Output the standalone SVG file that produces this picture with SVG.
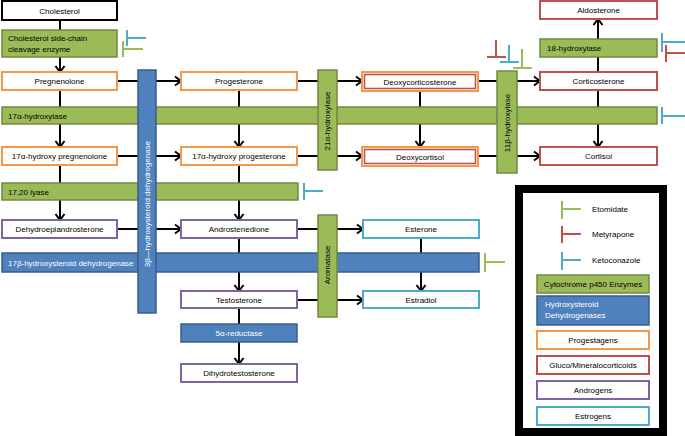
<svg xmlns="http://www.w3.org/2000/svg" width="685" height="436" viewBox="0 0 685 436">
<defs>
<marker id="arr" markerUnits="userSpaceOnUse" markerWidth="12" markerHeight="12" refX="7" refY="5" orient="auto" overflow="visible">
<path d="M1,0.5 L7,5 L1,9.5" fill="none" stroke="#000" stroke-width="2"/>
</marker>
<style>
text{font-family:"Liberation Sans",Arial,sans-serif;font-size:8px;fill:#000}
.c{text-anchor:middle}
.w{fill:#fff}
.node{fill:#fff;stroke-width:2}
.k{stroke:#000}
.o{stroke:#F79646}
.r{stroke:#C0504D}
.p{stroke:#8064A2}
.cy{stroke:#4BACC6}
.g{fill:#9BBB59;stroke:#71893F;stroke-width:1.5}
.b{fill:#4F81BD;stroke:#385D8A;stroke-width:1.5}
.ln{stroke:#000;stroke-width:2;fill:none}
.a{marker-end:url(#arr)}
.ti{fill:none;stroke-width:2}
.tg{stroke:#9BBB59}
.tr{stroke:#C0504D}
.tb{stroke:#4BACC6}
</style>
</defs>
<rect width="685" height="436" fill="#fff"/>

<g id="connectors">
<path class="ln a" d="M60,20 V72"/>
<path class="ln a" d="M60,90 V147"/>
<path class="ln a" d="M60,165 V220"/>
<path class="ln a" d="M117,81 H181"/>
<path class="ln a" d="M117,156 H181"/>
<path class="ln a" d="M117,229 H181"/>
<path class="ln a" d="M239,90 V147"/>
<path class="ln a" d="M239,165 V220"/>
<path class="ln a" d="M239,238 V291"/>
<path class="ln a" d="M239,308 V364"/>
<path class="ln a" d="M297,81 H362"/>
<path class="ln a" d="M297,156 H362"/>
<path class="ln a" d="M297,229 H363"/>
<path class="ln a" d="M297,300 H363"/>
<path class="ln a" d="M420,91 V147"/>
<path class="ln a" d="M421,238 V291"/>
<path class="ln a" d="M478,81 H540"/>
<path class="ln a" d="M478,156 H540"/>
<path class="ln a" d="M598,72 V19"/>
<path class="ln a" d="M598,90 V147"/>
</g>

<g id="hbars">
<g id="e17ahydroxylase"><rect class="g" x="2" y="107" width="655" height="17"/><text x="8" y="118.5">17α-hydroxylase</text></g>
<g id="e1720lyase"><rect class="g" x="2" y="183" width="296" height="17"/><text x="8" y="194.5">17,20 lyase</text></g>
<g id="e17bhsd"><rect class="b" x="2" y="253" width="477" height="19"/><text class="w" x="8" y="265.5">17β-hydroxysteroid dehydrogenase</text></g>
</g>

<g id="vbars">
<g id="e3bhsd"><rect class="b" x="138" y="70" width="18" height="243"/><text class="c w" transform="translate(150,204) rotate(-90)">3β—hydroxysteroid dehydrogenase</text></g>
<g id="e21a"><rect class="g" x="318" y="70" width="19" height="100"/><text class="c" transform="translate(330,121) rotate(-90)">21α-hydroxylase</text></g>
<g id="e11b"><rect class="g" x="497" y="71" width="20" height="102"/><text class="c" transform="translate(510,123) rotate(-90)">11β-hydroxylase</text></g>
<g id="earomatase"><rect class="g" x="318" y="215" width="19" height="102"/><text class="c" transform="translate(330,265) rotate(-90)">Aromatase</text></g>
</g>

<g id="nodes">
<g id="cholesterol"><rect class="node k" x="2" y="1" width="115" height="19"/><text class="c" x="59.5" y="13.5">Cholesterol</text></g>
<g id="scc"><rect class="g" x="2" y="30" width="115" height="27"/><text x="8" y="41">Cholesterol side-chain</text><text x="8" y="52">cleavage enzyme</text></g>
<g id="pregnenolone"><rect class="node o" x="2" y="72" width="115" height="18"/><text class="c" x="59.5" y="84">Pregnenolone</text></g>
<g id="ohpreg"><rect class="node o" x="2" y="147" width="115" height="18"/><text class="c" x="59.5" y="159">17α-hydroxy pregnenolone</text></g>
<g id="dhea"><rect class="node p" x="2" y="220" width="115" height="18"/><text class="c" x="59.5" y="232">Dehydroepiandrosterone</text></g>
<g id="progesterone"><rect class="node o" x="181" y="72" width="116" height="18"/><text class="c" x="239" y="84">Progesterone</text></g>
<g id="ohprog"><rect class="node o" x="181" y="147" width="116" height="18"/><text class="c" x="239" y="159">17α-hydroxy progesterone</text></g>
<g id="androstenedione"><rect class="node p" x="181" y="220" width="116" height="18"/><text class="c" x="239" y="232">Androstenedione</text></g>
<g id="testosterone"><rect class="node p" x="181" y="291" width="116" height="17"/><text class="c" x="239" y="302.5">Testosterone</text></g>
<g id="reductase"><rect class="b" x="181" y="324" width="116" height="18"/><text class="c w" x="239" y="336">5α-reductase</text></g>
<g id="dht"><rect class="node p" x="181" y="364" width="116" height="18"/><text class="c" x="239" y="376">Dihydrotestosterone</text></g>
<g id="doc"><rect class="node o" x="362" y="72" width="116" height="19"/><rect fill="none" stroke="#C0504D" stroke-width="1.6" x="364.5" y="74.5" width="111" height="14"/><text class="c" x="420" y="84.5">Deoxycorticosterone</text></g>
<g id="deoxycortisol"><rect class="node o" x="362" y="147" width="116" height="19"/><rect fill="none" stroke="#C0504D" stroke-width="1.6" x="364.5" y="149.5" width="111" height="14"/><text class="c" x="420" y="159.5">Deoxycortisol</text></g>
<g id="esterone"><rect class="node cy" x="363" y="220" width="116" height="18"/><text class="c" x="421" y="232">Esterone</text></g>
<g id="estradiol"><rect class="node cy" x="363" y="291" width="116" height="17"/><text class="c" x="421" y="302.5">Estradiol</text></g>
<g id="aldosterone"><rect class="node r" x="540" y="1" width="117" height="18"/><text class="c" x="598.5" y="13">Aldosterone</text></g>
<g id="e18hydroxylase"><rect class="g" x="540" y="39" width="117" height="18"/><text x="547" y="51">18-hydroxylase</text></g>
<g id="corticosterone"><rect class="node r" x="540" y="72" width="117" height="18"/><text class="c" x="598.5" y="84">Corticosterone</text></g>
<g id="cortisol"><rect class="node r" x="540" y="147" width="117" height="18"/><text class="c" x="598.5" y="159">Cortisol</text></g>
</g>

<g id="inhibitors">
<path class="ti tb" d="M127,30 V46 M127,38 H146"/>
<path class="ti tg" d="M123,41 V57 M123,49 H143"/>
<path class="ti tb" d="M662,107 V124 M662,116 H685"/>
<path class="ti tb" d="M304,183 V200 M304,191 H323"/>
<path class="ti tg" d="M485,253 V272 M485,262 H505"/>
<path class="ti tr" d="M496,40 V57 M487,57 H506"/>
<path class="ti tb" d="M509,45 V62 M500,62 H519"/>
<path class="ti tg" d="M522,49 V68 M513,68 H532"/>
<path class="ti tb" d="M662,33 V52 M662,42 H685"/>
<path class="ti tr" d="M666,45 V62 M666,53 H685"/>
</g>

<g id="legend">
<rect x="519" y="189" width="144" height="243" fill="#fff" stroke="#000" stroke-width="8"/>
<path class="ti tg" d="M562,201 V219 M562,209 H581"/>
<text x="592" y="212">Etomidate</text>
<path class="ti tr" d="M562,226 V243 M562,234 H581"/>
<text x="592" y="237">Metyrapone</text>
<path class="ti tb" d="M562,252 V270 M562,260 H581"/>
<text x="592" y="263">Ketoconazole</text>
<rect class="g" x="537" y="275" width="112" height="18"/><text class="c" x="593" y="287">Cytochrome p450 Enzymes</text>
<rect class="b" x="537" y="296" width="112" height="29"/><text class="w" x="545" y="307">Hydroxysteroid</text><text class="w" x="545" y="318">Dehydrogenases</text>
<rect class="node o" x="537" y="331" width="112" height="18"/><text class="c" x="593" y="343">Progestagens</text>
<rect class="node r" x="537" y="356" width="112" height="18"/><text class="c" x="593" y="368">Gluco/Mineralocorticoids</text>
<rect class="node p" x="537" y="381" width="112" height="18"/><text class="c" x="593" y="393">Androgens</text>
<rect class="node cy" x="537" y="407" width="112" height="18"/><text class="c" x="593" y="419">Estrogens</text>
</g>
</svg>
